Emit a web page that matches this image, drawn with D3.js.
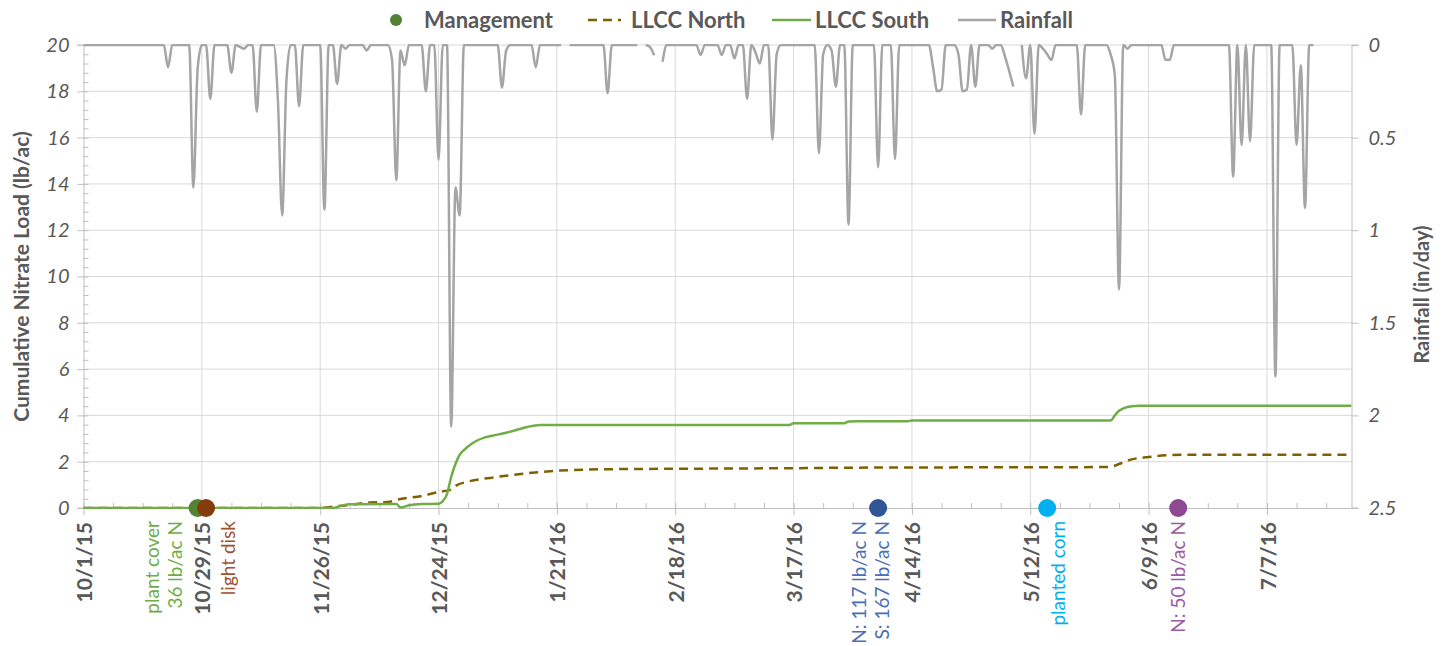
<!DOCTYPE html>
<html><head><meta charset="utf-8">
<script src="https://cdn.jsdelivr.net/npm/d3@7"></script>
<style>
body{margin:0;background:#fff;}
svg{display:block;font-family:Lato,'Open Sans',sans-serif;}
</style>
</head><body>
<svg id="chart" width="1446" height="646"></svg>
<script>
// ---------------- DATA ----------------
// Daily rainfall (in/day), one array per month, index 0 = 1st of month; null = missing
const rainOct15 = [0,0,0,0,0, 0,0,0,0,0, 0,0,0,0,0, 0,0,0,0,0, 0.12,0,0,0,0, 0,0.77,0.13,0,0, 0.29];
const rainNov15 = [0,0,0,0,0.15, 0,0.01,0.02,0,0, 0.36,0,0,0,0, 0.3,0.92,0.2,0,0, 0.33,0,0,0,0, 0,0.89,0,0,0.21];
const rainDec15 = [0,0.02,0,0,0, 0,0.03,0,0,0, 0,0,0.08,0.73,0.03, 0.11,0,0,0,0, 0.25,0,0,0.62,0, 0,2.06,0.77,0.92,0, 0];
const rainJan16 = [0,0,0,0,0, 0,0,0.23,0.03,0, 0,0,0,0,0, 0.12,0,0,0,0, 0,0,null,0,0, 0,0,0,0,0, 0];
const rainFeb16 = [0,0.26,0,0,0, 0,0,0,0,null, 0,0.01,0.055,null,0.09, 0,0,0,0,0, 0,0,0,0.054,0, 0,0,0,0.054];
const rainMar16 = [0,0,0.072,0,0, 0.29,0,0.04,0.10,0, 0,0.51,0.05,0,0, 0,0,0,0,0, 0,0,0.585,0.05,0, 0.03,0.225,0,0,0.97, 0];
const rainApr16 = [0,0,0,0,0, 0.66,0,0,0,0.615, 0,0,0,0,0, 0,0,0,0.12,0.25, 0.24,0,0,0,0.05, 0.25,0.24,0,0.225,0];
const rainMay16 = [0,0,0.02,0,0, 0.06,0.14,0.225,null,0, 0.18,0,0.48,0,0.02, 0.05,0.08,0,0,0, 0,0,0,0.375,0, 0,0,0,0,0, 0.05];
const rainJun16 = [0.16,1.32,0,0.02,0, 0,0,0,0,0, 0,0,0.08,0.08,0, 0,0,0,0,0, 0,0,0,0,0, 0,0,0,0.71,0];
const rainJul16 = [0.54,0,0.52,0,0, 0,0,0,1.79,0, 0,0,0,0.54,0.11, 0.88,0,0];
const rainMonths = ["2015-10","2015-11","2015-12","2016-01","2016-02","2016-03","2016-04","2016-05","2016-06","2016-07"];

// Cumulative nitrate load (lb/ac)
const southDates = ["2015-10-01","2015-11-29","2015-12-01","2015-12-03","2015-12-14","2015-12-15","2015-12-17","2015-12-20","2015-12-24","2015-12-25","2015-12-26","2015-12-27","2015-12-28","2015-12-29","2015-12-30","2016-01-01","2016-01-04","2016-01-07","2016-01-09","2016-01-12","2016-01-14","2016-01-17","2016-03-16","2016-03-17","2016-03-29","2016-03-30","2016-04-13","2016-04-14","2016-05-31","2016-06-01","2016-06-02","2016-06-03","2016-06-05","2016-06-07","2016-07-27"];
const southValues = [0,0,0.1,0.16,0.17,0.02,0.12,0.17,0.18,0.3,0.6,1.35,1.9,2.3,2.5,2.8,3.05,3.17,3.25,3.4,3.5,3.59,3.59,3.66,3.66,3.74,3.75,3.78,3.78,4.0,4.2,4.3,4.4,4.42,4.42];
const northDates = ["2015-10-01","2015-11-26","2015-11-30","2015-12-03","2015-12-07","2015-12-12","2015-12-15","2015-12-20","2015-12-24","2015-12-27","2015-12-28","2015-12-31","2016-01-06","2016-01-14","2016-01-21","2016-01-31","2016-02-24","2016-03-17","2016-03-30","2016-04-14","2016-05-31","2016-06-02","2016-06-05","2016-06-09","2016-06-13","2016-06-17","2016-07-27"];
const northValues = [0,0,0.08,0.13,0.23,0.26,0.39,0.52,0.69,0.8,0.95,1.14,1.32,1.5,1.61,1.67,1.7,1.72,1.74,1.75,1.77,1.9,2.1,2.2,2.28,2.3,2.3];

// Management events
const mgmtDates = ["2015-10-28","2015-10-30","2016-04-06","2016-05-16","2016-06-16"];
const mgmtLabels = [["plant cover","36 lb/ac N"],["light disk"],["N: 117 lb/ac N","S: 167 lb/ac N"],["planted corn"],["N: 50 lb/ac N"]];

// Axis ticks
const xTickDates = ["2015-10-01","2015-10-29","2015-11-26","2015-12-24","2016-01-21","2016-02-18","2016-03-17","2016-04-14","2016-05-12","2016-06-09","2016-07-07"];
const leftTicks = [0,2,4,6,8,10,12,14,16,18,20];
const rightTicks = [0,0.5,1,1.5,2,2.5];
const seriesNames = ["Management","LLCC North","LLCC South","Rainfall"];

// ---------------- STYLE / LAYOUT ----------------
const L = 83.5, R = 1351.5, T = 45, B = 508;
const mgmtColors = ["#548235","#843c0c","#2f5597","#00b0f0","#8e4a91"];
const mgmtTextColors = ["#70ad47","#a0522d","#4a6fb4","#00b0f0","#9d5aa6"];
const mgmtLabelShift = [-34, 22, -7, 11, 0];
const textGray = "#595959", gridCol = "#d9d9d9", axisCol = "#bfbfbf";
const cGreen = "#70ad47", cNorth = "#7f6000", cRain = "#a5a5a5";

const parse = d3.utcParse("%Y-%m-%d");
const fmt = d3.utcFormat("%-m/%-d/%y");

const svg = d3.select("#chart");
const x = d3.scaleUtc().domain([parse("2015-10-01"), parse("2016-07-27")]).range([L, R]);
const yL = d3.scaleLinear().domain([0, 20]).range([B, T]);
const yR = d3.scaleLinear().domain([0, 2.5]).range([T, B]);

// rainfall table
const rainArrays = [rainOct15,rainNov15,rainDec15,rainJan16,rainFeb16,rainMar16,rainApr16,rainMay16,rainJun16,rainJul16];
const rain = [];
rainMonths.forEach((m, i) => {
  rainArrays[i].forEach((v, j) => {
    rain.push({date: parse(m + "-" + String(j + 1).padStart(2, "0")), value: v});
  });
});
const south = southDates.map((d, i) => ({date: parse(d), value: southValues[i]}));
const north = northDates.map((d, i) => ({date: parse(d), value: northValues[i]}));

// clip
svg.append("defs").append("clipPath").attr("id", "plotclip")
  .append("rect").attr("x", L).attr("y", T - 1).attr("width", R - L).attr("height", B - T + 2);

// gridlines
const grid = svg.append("g");
grid.selectAll("line.h").data(leftTicks.filter(v => v > 0)).join("line")
  .attr("x1", L).attr("x2", R).attr("y1", d => yL(d)).attr("y2", d => yL(d))
  .attr("stroke", gridCol).attr("stroke-width", 1);
grid.selectAll("line.v").data(xTickDates.slice(1)).join("line")
  .attr("x1", d => x(parse(d))).attr("x2", d => x(parse(d))).attr("y1", T).attr("y2", B)
  .attr("stroke", gridCol).attr("stroke-width", 1);

// x axis
const xMinor = d3.utcDay.range(parse("2015-10-01"), parse("2016-07-28"), 7);
const gxMinor = svg.append("g").attr("transform", `translate(0,${B})`)
  .call(d3.axisTop(x).tickValues(xMinor).tickSize(5).tickFormat(""));
const gx = svg.append("g").attr("transform", `translate(0,${B})`)
  .call(d3.axisBottom(x).tickValues(xTickDates.map(parse)).tickSize(7).tickFormat(""));
[gxMinor, gx].forEach(g => { g.select(".domain").attr("stroke", axisCol); g.selectAll(".tick line").attr("stroke", axisCol); });
gx.select(".domain").attr("d", `M${L},0.5H${R}`);
gxMinor.select(".domain").remove();
svg.append("g").selectAll("text").data(xTickDates).join("text")
  .attr("transform", d => `translate(${x(parse(d)) + 1},522) rotate(-90)`)
  .attr("text-anchor", "end").attr("dy", "0.36em")
  .attr("fill", textGray).attr("font-weight", "bold").attr("font-size", 21)
  .text(d => fmt(parse(d)));

// left axis
const leftMinor = d3.range(0, 20.001, 0.4);
const gyMinor = svg.append("g").attr("transform", `translate(${L},0)`)
  .call(d3.axisRight(yL).tickValues(leftMinor).tickSize(5).tickFormat(""));
gyMinor.select(".domain").remove();
gyMinor.selectAll(".tick line").attr("stroke", axisCol);
const gyL = svg.append("g").attr("transform", `translate(${L},0)`)
  .call(d3.axisLeft(yL).tickValues(leftTicks).tickSize(6).tickPadding(8));
gyL.select(".domain").attr("stroke", axisCol).attr("d", `M-6,${T}H0.5V${B}H-6`);
gyL.selectAll(".tick line").attr("stroke", axisCol);
gyL.selectAll(".tick text").attr("fill", textGray).attr("font-size", 20).attr("font-style", "italic")
  .attr("font-family", "Lato,'Open Sans',sans-serif");

// right axis
const gyR = svg.append("g").attr("transform", `translate(${R},0)`)
  .call(d3.axisRight(yR).tickValues(rightTicks).tickSize(7).tickPadding(10).tickFormat(d3.format("")));
gyR.select(".domain").attr("stroke", axisCol).attr("d", `M7,${T}H0.5V${B}H7`);
gyR.selectAll(".tick line").attr("stroke", axisCol);
gyR.selectAll(".tick text").attr("fill", textGray).attr("font-size", 20).attr("font-style", "italic")
  .attr("font-family", "Lato,'Open Sans',sans-serif");

// axis titles
svg.append("text").attr("transform", `translate(22,${(T + B) / 2}) rotate(-90)`)
  .attr("text-anchor", "middle").attr("dy", "0.35em")
  .attr("fill", textGray).attr("font-weight", "bold").attr("font-size", 21)
  .text("Cumulative Nitrate Load (lb/ac)");
svg.append("text").attr("transform", `translate(1422,${(T + B) / 2 + 18}) rotate(-90)`)
  .attr("text-anchor", "middle").attr("dy", "0.35em")
  .attr("fill", textGray).attr("font-weight", "bold").attr("font-size", 20)
  .text("Rainfall (in/day)");

// series
const plot = svg.append("g").attr("clip-path", "url(#plotclip)");
const rainLine = d3.line().defined(d => d.value !== null)
  .x(d => x(d.date)).y(d => yR(d.value)).curve(d3.curveMonotoneX);
plot.append("path").datum(rain).attr("d", rainLine)
  .attr("fill", "none").attr("stroke", cRain).attr("stroke-width", 2.5).attr("stroke-linejoin", "round");

const nLine = d3.line().x(d => x(d.date)).y(d => yL(d.value)).curve(d3.curveMonotoneX);
plot.append("path").datum(north).attr("d", nLine)
  .attr("fill", "none").attr("stroke", cNorth).attr("stroke-width", 2.5).attr("stroke-dasharray", "9,6");
plot.append("path").datum(south).attr("d", nLine)
  .attr("fill", "none").attr("stroke", cGreen).attr("stroke-width", 2.5);

// management points
svg.append("g").selectAll("circle").data(mgmtDates).join("circle")
  .attr("cx", d => x(parse(d))).attr("cy", yL(0)).attr("r", 9)
  .attr("fill", (d, i) => mgmtColors[i]);

const labG = svg.append("g");
mgmtDates.forEach((d, i) => {
  const lines = mgmtLabels[i];
  const cx = x(parse(d)) + mgmtLabelShift[i];
  const t = labG.append("text")
    .attr("transform", `translate(${cx},521) rotate(-90)`)
    .attr("text-anchor", "end").attr("fill", mgmtTextColors[i]).attr("font-size", 19);
  lines.forEach((ln, k) => {
    t.append("tspan").attr("x", 0).attr("y", (k - (lines.length - 1) / 2) * 23).attr("dy", "0.36em").text(ln);
  });
});

// legend
const lg = svg.append("g").attr("font-weight", "bold").attr("font-size", 22).attr("fill", textGray);
lg.append("circle").attr("cx", 396).attr("cy", 20).attr("r", 6).attr("fill", mgmtColors[0]);
lg.append("text").attr("x", 424).attr("y", 20).attr("dy", "0.35em").text(seriesNames[0]);
lg.append("line").attr("x1", 588).attr("x2", 621).attr("y1", 20).attr("y2", 20)
  .attr("stroke", cNorth).attr("stroke-width", 2.5).attr("stroke-dasharray", "9,6");
lg.append("text").attr("x", 631).attr("y", 20).attr("dy", "0.35em").text(seriesNames[1]);
lg.append("line").attr("x1", 772).attr("x2", 811).attr("y1", 20).attr("y2", 20)
  .attr("stroke", cGreen).attr("stroke-width", 2.5);
lg.append("text").attr("x", 815).attr("y", 20).attr("dy", "0.35em").text(seriesNames[2]);
lg.append("line").attr("x1", 958).attr("x2", 996).attr("y1", 20).attr("y2", 20)
  .attr("stroke", cRain).attr("stroke-width", 2.5);
lg.append("text").attr("x", 1000).attr("y", 20).attr("dy", "0.35em").text(seriesNames[3]);
</script>
</body></html>
